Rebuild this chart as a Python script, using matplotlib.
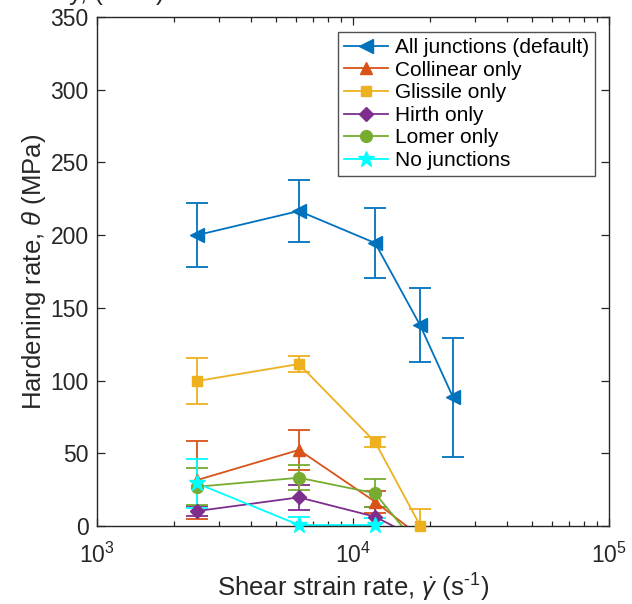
#!/usr/bin/env python3
"""Hardening rate vs shear strain rate for the junction-type runs."""

import matplotlib
matplotlib.use("Agg")
import matplotlib.pyplot as plt
from matplotlib.lines import Line2D
from matplotlib.ticker import LogLocator, MultipleLocator, NullLocator
import numpy as np

# shear strain rates (1/s)
rates = [2460, 6150, 12200, 18300, 24600]

all_theta = [200.0, 216.6, 194.6, 138.0, 88.5]
all_err = [22.0, 21.5, 24.0, 25.5, 41.0]

collinear_theta = [31.6, 52.3, 16.7, -7.2]
collinear_err = [27.0, 14.0, 7.5, 5.0]

glissile_theta = [99.7, 111.4, 57.8, 0.3]
glissile_err = [16.0, 5.5, 3.7, 11.5]

hirth_theta = [10.3, 19.7, 6.4, -9.6]
hirth_err = [3.6, 8.8, 7.0, 5.0]

lomer_theta = [27.0, 33.2, 22.5, -15.4]
lomer_err = [12.7, 8.5, 9.5, 5.0]

none_theta = [29.3, 0.7, 0.7]
none_err = [16.6, 5.7, 5.0]

series = [
    ("All junctions (default)", all_theta, all_err, "#0072BD", "<", 10),
    ("Collinear only", collinear_theta, collinear_err, "#D95319", "^", 9),
    ("Glissile only", glissile_theta, glissile_err, "#EDB120", "s", 7),
    ("Hirth only", hirth_theta, hirth_err, "#7E2F8E", "D", 7.5),
    ("Lomer only", lomer_theta, lomer_err, "#77AC30", "o", 8.5),
    ("No junctions", none_theta, none_err, "#00FFFF", "*", 12),
]

plt.rcParams["font.family"] = ["Liberation Sans", "DejaVu Sans"]
plt.rcParams["mathtext.fontset"] = "custom"
plt.rcParams["mathtext.rm"] = "Liberation Sans"
plt.rcParams["mathtext.it"] = "Liberation Sans:italic"

fig = plt.figure(figsize=(6.32, 6.04), dpi=100)
ax = fig.add_axes([0.1535, 0.1291, 0.81, 0.8428])

handles = []
for label, theta, err, color, marker, ms in series:
    x = np.array(rates[: len(theta)], dtype=float)
    y = np.array(theta, dtype=float)
    ax.errorbar(x, y, yerr=err, fmt="-", color=color, lw=1.3, elinewidth=1.3,
                capsize=8, capthick=1.3)
    # markers sitting on the axis stay whole; the ones below zero are hidden
    keep = y >= 0
    ax.plot(x[keep], y[keep], linestyle="none", marker=marker, ms=ms,
            color=color, mec=color, clip_on=False, zorder=3)
    handles.append(Line2D([], [], color=color, lw=1.3, marker=marker, ms=ms, label=label))

ax.set_xscale("log")
ax.set_xlim(1e3, 1e5)
ax.set_ylim(0, 350)
ax.yaxis.set_major_locator(MultipleLocator(50))
ax.yaxis.set_minor_locator(NullLocator())
ax.xaxis.set_major_locator(LogLocator(base=10))
ax.xaxis.set_minor_locator(LogLocator(base=10, subs=np.arange(2, 10)))

ax.tick_params(which="both", direction="in", top=True, right=True, width=0.9,
               colors="#262626", labelsize=16.5, labelcolor="#262626")
ax.tick_params(which="major", length=6)
ax.tick_params(which="minor", length=3.5)
ax.tick_params(axis="x", pad=12)
ax.tick_params(axis="y", pad=6)
for sp in ax.spines.values():
    sp.set_linewidth(1.0)
    sp.set_color("#262626")

ax.set_xlabel(r"Shear strain rate, $\dot{\gamma}$ (s$^{\text{-1}}$)", fontsize=18.5,
              color="#262626", labelpad=3)
ax.set_ylabel(r"Hardening rate, $\theta$ (MPa)", fontsize=18.5, color="#262626", labelpad=2)

leg = ax.legend(handles=handles, loc="upper right", bbox_to_anchor=(0.9727, 0.9705),
                fontsize=15, frameon=True, fancybox=False, handlelength=2.1,
                handletextpad=0.33, labelspacing=0.17, borderpad=0.3, borderaxespad=0)
leg.get_frame().set_edgecolor("#262626")
leg.get_frame().set_linewidth(1.0)

# title clipped by the top of the page, only its lower edge shows
fig.text(0.261, 1.0, "Sensitivity, (MPa)", ha="right", va="baseline",
         fontsize=18.5, color="#262626")

fig.savefig("out.png", dpi=100)
